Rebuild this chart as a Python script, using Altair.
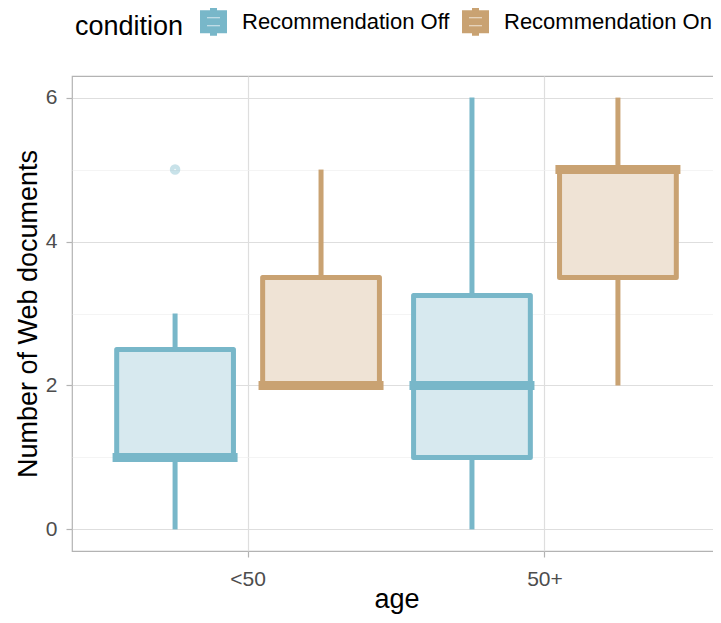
import altair as alt
import pandas as pd

# ---- data ----
ages = ["<50", "<50", "50+", "50+"]
conditions = ["Recommendation Off", "Recommendation On", "Recommendation Off", "Recommendation On"]
lower = [0, 2, 0, 2]
q1 = [1, 2, 1, 3.5]
median = [1, 2, 2, 5]
q3 = [2.5, 3.5, 3.25, 5]
upper = [3, 5, 6, 6]

out_age = ["<50"]
out_condition = ["Recommendation Off"]
out_value = [5]

age_order = ["<50", "50+"]
cond_domain = ["Recommendation Off", "Recommendation On"]
stroke_colors = ["#78B7C9", "#C9A272"]
fill_colors = ["#D7E9EF", "#EFE3D5"]

df = pd.DataFrame({"age": ages, "condition": conditions, "lower": lower,
                   "q1": q1, "median": median, "q3": q3, "upper": upper})
out_df = pd.DataFrame({"age": out_age, "condition": out_condition, "value": out_value})

x_enc = alt.X("age:N", sort=age_order,
              scale=alt.Scale(paddingInner=0, paddingOuter=0.093),
              axis=alt.Axis(title="age", labelAngle=0, labelPadding=11, titlePadding=-3,
                            grid=True))
xo_enc = alt.XOffset("condition:N", sort=cond_domain,
                     scale=alt.Scale(domain=cond_domain, paddingInner=0.2, paddingOuter=0.117))
y_scale = alt.Scale(domain=[-0.3, 6.3], nice=False, zero=False)
y_axis = alt.Axis(title="Number of Web documents", values=[0, 1, 2, 3, 4, 5, 6], format="d",
                  labelExpr="datum.value % 2 == 0 ? datum.label : ''",
                  gridColor={"condition": {"test": "datum.value % 2 == 1", "value": "#EFEFEF"},
                             "value": "#DEDEDE"},
                  gridWidth={"condition": {"test": "datum.value % 2 == 1", "value": 0.7},
                             "value": 1.2},
                  tickOpacity={"condition": {"test": "datum.value % 2 == 1", "value": 0},
                               "value": 1},
                  labelPadding=9, titlePadding=3)

stroke_enc = alt.Stroke("condition:N", scale=alt.Scale(domain=cond_domain, range=stroke_colors),
                        title="condition")
fill_enc = alt.Fill("condition:N", scale=alt.Scale(domain=cond_domain, range=fill_colors),
                    title="condition")

base = alt.Chart(df)

boxes = base.mark_bar(strokeWidth=5, strokeJoin="round").encode(
    x=x_enc, xOffset=xo_enc,
    y=alt.Y("q1:Q", scale=y_scale, axis=y_axis), y2="q3:Q",
    fill=fill_enc, stroke=stroke_enc,
)
whisk_lo = base.mark_rule(strokeWidth=5).encode(
    x=x_enc, xOffset=xo_enc, y=alt.Y("lower:Q", scale=y_scale), y2="q1:Q", stroke=stroke_enc)
whisk_hi = base.mark_rule(strokeWidth=5).encode(
    x=x_enc, xOffset=xo_enc, y=alt.Y("q3:Q", scale=y_scale), y2="upper:Q", stroke=stroke_enc)
med = base.mark_tick(orient="horizontal", filled=False, size=117, thickness=1,
                     strokeWidth=8, opacity=1).encode(
    x=x_enc, xOffset=xo_enc, y=alt.Y("median:Q", scale=y_scale), stroke=stroke_enc)
outliers = alt.Chart(out_df).mark_point(filled=False, size=36, strokeWidth=4.5,
                                        opacity=0.4).encode(
    x=x_enc, xOffset=xo_enc, y=alt.Y("value:Q", scale=y_scale), stroke=stroke_enc)

chart = alt.layer(boxes, whisk_lo, whisk_hi, med, outliers).properties(
    width=649, height=475,
    autosize=alt.AutoSizeParams(type="none"),
    padding={"left": 64, "top": 68, "right": -8, "bottom": 64},
).configure_view(
    stroke="#B3B3B3", strokeWidth=1.2
).configure_axis(
    labelFont="Liberation Sans", titleFont="Liberation Sans",
    labelFontSize=21, titleFontSize=27, labelColor="#4D4D4D", titleColor="#000000",
    titleFontWeight="normal", tickColor="#B3B3B3", tickSize=6, tickWidth=1.2,
    domain=False, gridColor="#DEDEDE", gridWidth=1.2,
).configure_legend(
    orient="top", direction="horizontal", titleOrient="left",
    titleFont="Liberation Sans", labelFont="Liberation Sans",
    titleFontSize=27, labelFontSize=22, titleColor="#000000", labelColor="#000000",
    titleFontWeight="normal", offset=23, padding=3, titlePadding=12, columnPadding=1,
    labelLimit=0, symbolOpacity=1,
    symbolType="M-0.714,-0.571H0.714V0.571H-0.714Z M-0.714,0H0.714 M0,-0.571V-1 M0,0.571V1",
    symbolSize=784, symbolStrokeWidth=7, labelOffset=11,
)

chart.save("out.html", embed_options={"renderer": "svg", "actions": False})
